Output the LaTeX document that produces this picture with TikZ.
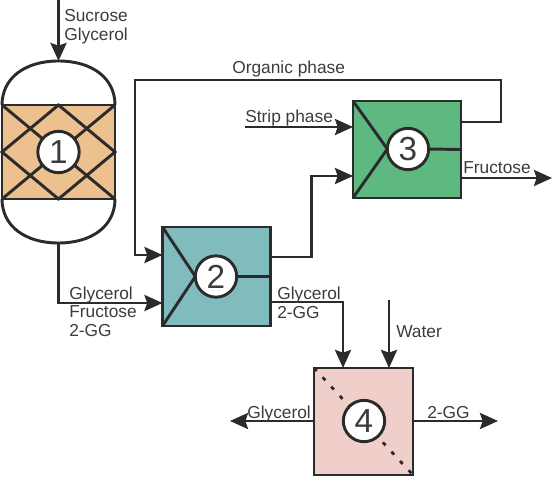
\documentclass[tikz,border=0pt]{standalone}
\usepackage{fontspec}
\setmainfont{Liberation Sans}
\usetikzlibrary{arrows.meta,calc}
\definecolor{ink}{HTML}{2B2B2B}
\definecolor{txt}{HTML}{3C3C3C}
\definecolor{fillone}{HTML}{EDC08F}
\definecolor{filltwo}{HTML}{80BCBE}
\definecolor{fillthree}{HTML}{5DB97F}
\definecolor{fillfour}{HTML}{F0CFCB}
\tikzset{
  x=0.75pt,y=-0.75pt,
  line/.style={draw=ink,line width=2.2pt,line join=miter},
  flow/.style={line,-{Stealth[length=13.5pt,width=12pt,inset=2pt]}},
  unitbox/.style={draw=ink,line width=2.2pt,inner sep=0pt,outer sep=0pt,rectangle},
  numcirc/.style={circle,draw=ink,fill=white,line width=2.2pt,minimum size=31pt,inner sep=0pt,outer sep=0pt,font=\fontsize{25}{25}\selectfont,text=txt},
  lab/.style={anchor=base west,inner sep=0pt,text=txt,font=\fontsize{13}{13}\selectfont},
}
\begin{document}
\begin{tikzpicture}
\useasboundingbox (0,0) rectangle (553,477);
% reactor
\coordinate (rtop) at (58.5,61);
\coordinate (rbot) at (58.5,243);
\draw[line] (2,105) .. controls (2,78) and (25,61) .. (rtop) .. controls (92,61) and (115,78) .. (115,105);
\draw[line] (2,199) .. controls (2,226) and (25,243) .. (rbot) .. controls (92,243) and (115,226) .. (115,199);
\node[unitbox,fill=fillone,minimum width=84.75pt,minimum height=70.5pt] (r1) at (58.5,152) {};
\draw[line] (r1.north west) -- (r1.south east);
\draw[line] (r1.south west) -- (r1.north east);
\draw[line] (r1.north) -- (r1.east) -- (r1.south) -- (r1.west) -- cycle;
\node[numcirc] (n1) at (r1.center) {1};
% unit 2
\node[unitbox,fill=filltwo,minimum width=81pt,minimum height=74.25pt] (b2) at (216.5,276.5) {};
\node[numcirc] (n2) at (216,276.5) {2};
\draw[line] (b2.north west) -- (n2.west);
\draw[line] (b2.south west) -- (n2.west);
\draw[line] (n2.east) -- (b2.east);
% unit 3
\node[unitbox,fill=fillthree,minimum width=81pt,minimum height=72.75pt] (b3) at (407,149.5) {};
\node[numcirc] (n3) at (408,149) {3};
\draw[line] (b3.north west) -- (n3.west);
\draw[line] (b3.south west) -- (n3.west);
\draw[line] (n3.east) -- (b3.east);
% unit 4
\node[unitbox,fill=fillfour,minimum width=74.25pt,minimum height=80.25pt] (b4) at (363.5,421.5) {};
\draw[draw=ink,line width=2.1pt,dash pattern=on 3pt off 6.5pt] (b4.north west) -- (b4.south east);
\node[numcirc] (n4) at (364,421) {4};
% free ends and bends
\coordinate (in) at (58.5,0);
\coordinate (orgA) at (501,122);
\coordinate (orgB) at (501,80);
\coordinate (orgC) at (135,80);
\coordinate (orgD) at (135,255);
\coordinate (conA) at (311.5,257);
\coordinate (conB) at (311.5,176);
\coordinate (strip) at (245,127);
\coordinate (fruc) at (552,178);
\coordinate (botB) at (58.5,303);
\coordinate (gA) at (343,302);
\coordinate (gB) at (343,368);
\coordinate (wat) at (389,300);
\coordinate (wB) at (389,368);
\coordinate (gl) at (230,421);
\coordinate (gg) at (498,421);
% connectors
\draw[flow] (in) -- (rtop);
\draw[flow] (rbot) -- (botB) -- (b2.west |- botB);
\draw[flow] (b3.east |- orgA) -- (orgA) -- (orgB) -- (orgC) -- (orgD) -- (b2.west |- orgD);
\draw[flow] (b2.east |- conA) -- (conA) -- (conB) -- (b3.west |- conB);
\draw[flow] (strip) -- (b3.west |- strip);
\draw[flow] (b3.east |- fruc) -- (fruc);
\draw[flow] (b2.east |- gA) -- (gA) -- (gB);
\draw[flow] (wat) -- (wB);
\draw[flow] (b4.west |- gl) -- (gl);
\draw[flow] (b4.east |- gg) -- (gg);
% labels
\node[lab] (t1) at (64,22) {Sucrose};
\node[lab] (t2) at (64,41) {Glycerol};
\node[lab] (t3) at (232,74) {Organic phase};
\node[lab] (t4) at (245,123) {Strip phase};
\node[lab] (t5) at (463,174) {Fructose};
\node[lab] (t6) at (69,299) {Glycerol};
\node[lab] (t7) at (69,317) {Fructose};
\node[lab] (t8) at (69,336) {2-GG};
\node[lab] (t9) at (277,299) {Glycerol};
\node[lab] (t10) at (277,318) {2-GG};
\node[lab] (t11) at (396,337) {Water};
\node[lab] (t12) at (247,418) {Glycerol};
\node[lab] (t13) at (427,418) {2-GG};
\end{tikzpicture}
\end{document}
